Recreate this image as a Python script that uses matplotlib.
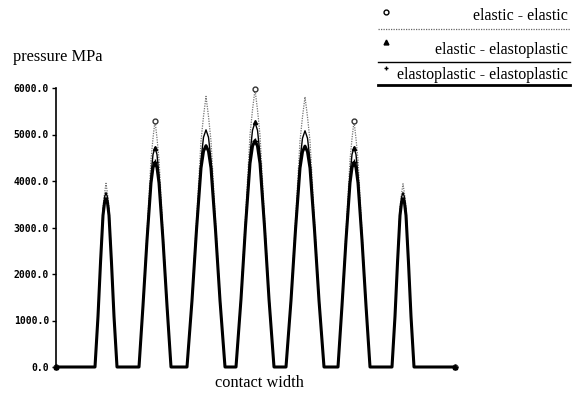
import matplotlib
matplotlib.use('Agg')
import matplotlib.pyplot as plt
from matplotlib.lines import Line2D

# contact width positions (arbitrary units, no ticks on the original)
x = [0,
     39, 42, 44.5, 47, 48.5, 50, 51.5, 53, 55.5, 58, 61,
     83, 87, 91, 95, 97, 99, 101, 103, 107, 111, 115,
     131, 136, 140.5, 145, 147.5, 150, 152.5, 155, 159.5, 164, 169,
     180, 185, 189.5, 194, 196.5, 199, 201.5, 204, 208.5, 213, 218,
     230, 235, 239.5, 244, 246.5, 249, 251.5, 254, 258.5, 263, 268,
     282, 286, 290, 294, 296, 298, 300, 302, 306, 310, 314,
     336, 339, 341.5, 344, 345.5, 347, 348.5, 350, 352.5, 355, 358,
     399]

# pressure in MPa
elastic_elastic = [0,
     0, 1110, 2310, 3440, 3720, 3950, 3720, 3440, 2310, 1110, 0,
     0, 1390, 2910, 4460, 4920, 5300, 4920, 4460, 2910, 1390, 0,
     0, 1510, 3160, 4860, 5390, 5820, 5390, 4860, 3160, 1510, 0,
     0, 1550, 3240, 4990, 5530, 5970, 5530, 4990, 3240, 1550, 0,
     0, 1510, 3160, 4860, 5380, 5810, 5380, 4860, 3160, 1510, 0,
     0, 1390, 2910, 4450, 4910, 5290, 4910, 4450, 2910, 1390, 0,
     0, 1110, 2260, 3440, 3720, 3940, 3720, 3440, 2260, 1110, 0,
     0]

elastic_elastoplastic = [0,
     0, 1100, 2260, 3330, 3650, 3750, 3650, 3330, 2260, 1100, 0,
     0, 1340, 2780, 4120, 4570, 4720, 4570, 4120, 2780, 1340, 0,
     0, 1450, 3000, 4450, 4940, 5100, 4940, 4450, 3000, 1450, 0,
     0, 1480, 3080, 4580, 5090, 5260, 5090, 4580, 3080, 1480, 0,
     0, 1450, 3000, 4450, 4920, 5080, 4920, 4450, 3000, 1450, 0,
     0, 1340, 2780, 4120, 4570, 4720, 4570, 4120, 2780, 1340, 0,
     0, 1100, 2260, 3330, 3650, 3750, 3650, 3330, 2260, 1100, 0,
     0]

elastoplastic_elastoplastic = [0,
     0, 1090, 2240, 3260, 3530, 3620, 3530, 3260, 2240, 1090, 0,
     0, 1320, 2730, 3960, 4290, 4400, 4290, 3960, 2730, 1320, 0,
     0, 1430, 2950, 4280, 4640, 4760, 4640, 4280, 2950, 1430, 0,
     0, 1460, 3020, 4380, 4750, 4870, 4750, 4380, 3020, 1460, 0,
     0, 1430, 2950, 4280, 4630, 4750, 4630, 4280, 2950, 1430, 0,
     0, 1320, 2730, 3960, 4290, 4400, 4290, 3960, 2730, 1320, 0,
     0, 1090, 2240, 3260, 3530, 3620, 3530, 3260, 2240, 1090, 0,
     0]

yticks = [0, 1000, 2000, 3000, 4000, 5000, 6000]
ytick_labels = ['0.0', '1000.0', '2000.0', '3000.0', '4000.0', '5000.0', '6000.0']
legend_labels = ['elastic - elastic', 'elastic - elastoplastic',
                 'elastoplastic - elastoplastic']

# markers sit on the start, the 2nd/4th/6th peaks and the end
mark_idx = [0, 17, 39, 61, 78]

W, H = 574, 395
fig = plt.figure(figsize=(W / 100, H / 100), dpi=100)
ax = fig.add_axes([56 / W, 28 / H, 399 / W, 279 / H])

ax.plot(x, elastic_elastic, color='0.45', lw=0.9, ls=(0, (1, 1)),
        marker='o', markevery=mark_idx, ms=3.5, mfc='white', mec='0.2',
        clip_on=False, zorder=2)
ax.plot(x, elastic_elastoplastic, color='black', lw=1.0,
        marker='^', markevery=mark_idx, ms=3, clip_on=False, zorder=3)
ax.plot(x, elastoplastic_elastoplastic, color='black', lw=2.2,
        marker='+', markevery=mark_idx, ms=4, mew=1, clip_on=False, zorder=4)

ax.set_xlim(0, 399)
ax.set_ylim(0, 6000)
ax.set_xticks([])
ax.set_yticks(yticks)
ax.set_yticklabels(ytick_labels, family='DejaVu Sans Mono', fontsize=7,
                   fontweight='bold')
ax.tick_params(axis='y', length=3, width=1, pad=2)
for s in ['top', 'right', 'bottom']:
    ax.spines[s].set_visible(False)
ax.spines['left'].set_linewidth(1.2)

fig.text(13 / W, 1 - 57 / H, 'pressure MPa', family='Liberation Serif',
         fontsize=11.8, va='center', ha='left')
fig.text(259 / W, 1 - 383 / H, 'contact width', family='Liberation Serif',
         fontsize=11.8, va='center', ha='center')

# hand-drawn legend in the top right corner
text_y = [16, 50, 75]
line_y = [29, 62, 85]
mark_y = [12, 42, 68]
markers = ['o', '^', '+']
styles = [dict(color='0.4', lw=0.9, ls=(0, (1, 1))),
          dict(color='black', lw=1.0),
          dict(color='black', lw=2.0)]
for i, lab in enumerate(legend_labels):
    fig.text(568 / W, 1 - text_y[i] / H, lab, family='Liberation Serif',
             fontsize=11.5, va='center', ha='right')
    fig.add_artist(Line2D([378 / W, 570 / W], [1 - line_y[i] / H] * 2,
                          transform=fig.transFigure, **styles[i]))
    fig.add_artist(Line2D([386 / W], [1 - mark_y[i] / H], marker=markers[i],
                          ms=3.5, color='black', mfc='white' if i == 0 else 'black',
                          mew=1, transform=fig.transFigure))

fig.savefig('out.png', dpi=100)
